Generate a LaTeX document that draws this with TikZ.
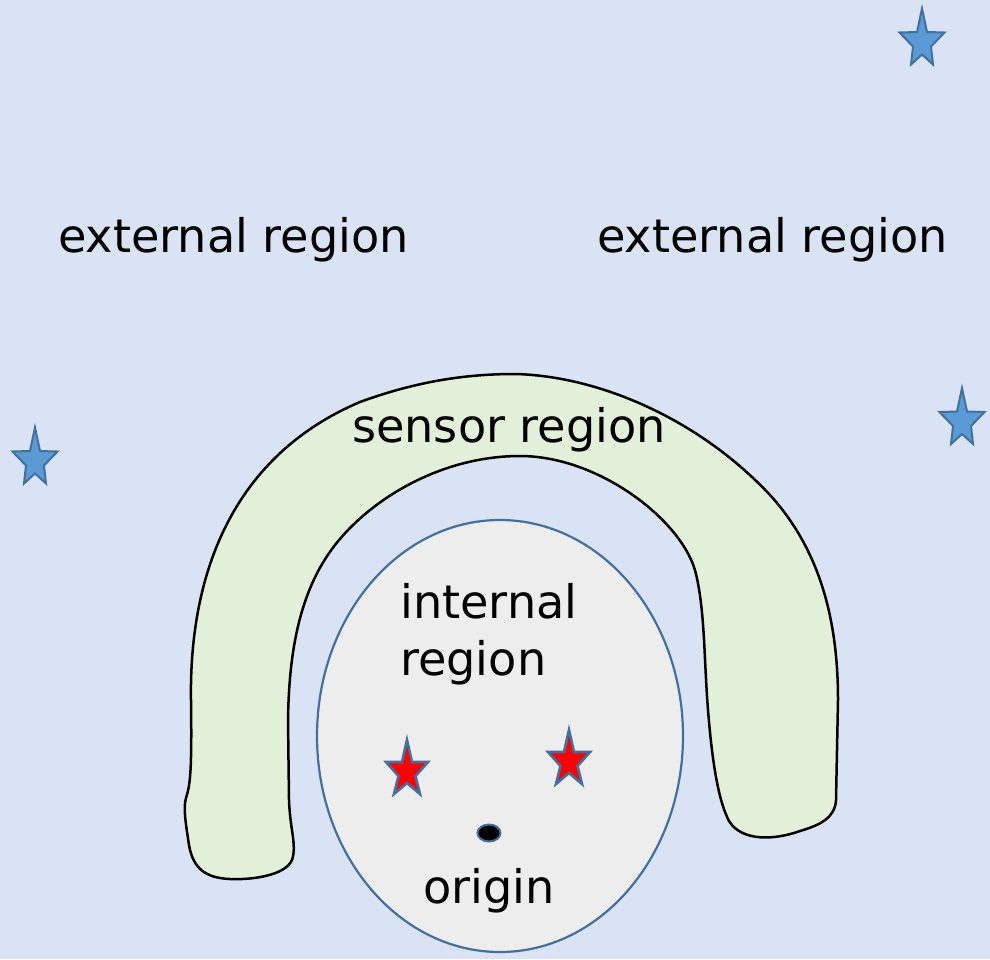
\documentclass[tikz,border=0pt]{standalone}
\usepackage{fontspec}
\setmainfont{DejaVu Sans}
\definecolor{bgblue}{HTML}{DAE3F3}
\definecolor{sensorfill}{HTML}{E2F0D9}
\definecolor{innerfill}{HTML}{EDEDED}
\definecolor{edgeblue}{HTML}{41719C}
\definecolor{starblue}{HTML}{5B9BD5}
\tikzset{
  pics/bluestarshape/.style={code={
    \path[pic actions] (0,0) -- (5,23.5) -- (22.5,24) -- (9,38) -- (11,56) -- (0,46)
      -- (-11,56) -- (-9,38) -- (-22.5,24) -- (-5,23.5) -- cycle;
  }},
  pics/redstarshape/.style={code={
    \path[pic actions] (0,0) -- (5,22) -- (21,22) -- (8.5,36) -- (13,54) -- (0,43)
      -- (-13,54) -- (-8.5,36) -- (-21,22) -- (-5,22) -- cycle;
  }},
  bluestar/.style={draw=edgeblue, fill=starblue, line width=2pt, line join=miter},
  redstar/.style={draw=edgeblue, fill=red, line width=2.6pt, line join=miter},
  lbl/.style={inner sep=0pt, anchor=base west, font=\fontsize{46.2}{57}\selectfont},
}
\begin{document}
\begin{tikzpicture}[x=1pt, y=-1pt]
  \fill[bgblue] (0,0) rectangle (990,959);
  \useasboundingbox (0,0) rectangle (990,959);

  % sensor region (horseshoe)
  \draw[fill=sensorfill, draw=black, line width=2.5pt, line join=round]
    (191,700) .. controls (189,570) and (235,455) .. (360,402)
    .. controls (420,380) and (470,374) .. (515,374)
    .. controls (600,376) and (700,420) .. (770,495)
    .. controls (820,550) and (838,620) .. (838,700)
    -- (836,800)
    .. controls (835,818) and (820,825) .. (800,831)
    .. controls (775,840) and (742,842) .. (729,821)
    .. controls (718,800) and (712,760) .. (708,710)
    .. controls (704,660) and (705,612) .. (696,574)
    .. controls (684,522) and (600,456) .. (520,456)
    .. controls (440,456) and (370,500) .. (335,545)
    .. controls (300,590) and (289,650) .. (288,720)
    -- (289,800)
    .. controls (290,830) and (297,845) .. (292,860)
    .. controls (285,876) and (250,880) .. (230,879)
    .. controls (205,878) and (193,868) .. (189,845)
    .. controls (186,825) and (183,808) .. (186,798)
    .. controls (190,785) and (192,775) .. (191,700) -- cycle;

  % internal region
  \draw[fill=innerfill, draw=edgeblue, line width=2.2pt] (500,736) ellipse [x radius=183, y radius=216];

  % origin dot
  \draw[fill=black, draw=edgeblue, line width=2pt] (489,833) ellipse [x radius=11.5, y radius=8.5];

  % stars
  \pic[bluestar] at (922,8.5) {bluestarshape};
  \pic[bluestar] at (962,388) {bluestarshape};
  \pic[bluestar] at (35,427.5) {bluestarshape};
  \pic[redstar] at (407,740) {redstarshape};
  \pic[redstar] at (569,730) {redstarshape};

  % labels
  \node[lbl] (ext1) at (58,252) {external region};
  \node[lbl] (ext2) at (597,252) {external region};
  \node[lbl] (sensor) at (352,442) {sensor region};
  \node[lbl] (int1) at (400,618) {internal};
  \node[lbl] (int2) at (400,675) {region};
  \node[lbl] (orig) at (423,903) {origin};
\end{tikzpicture}
\end{document}
